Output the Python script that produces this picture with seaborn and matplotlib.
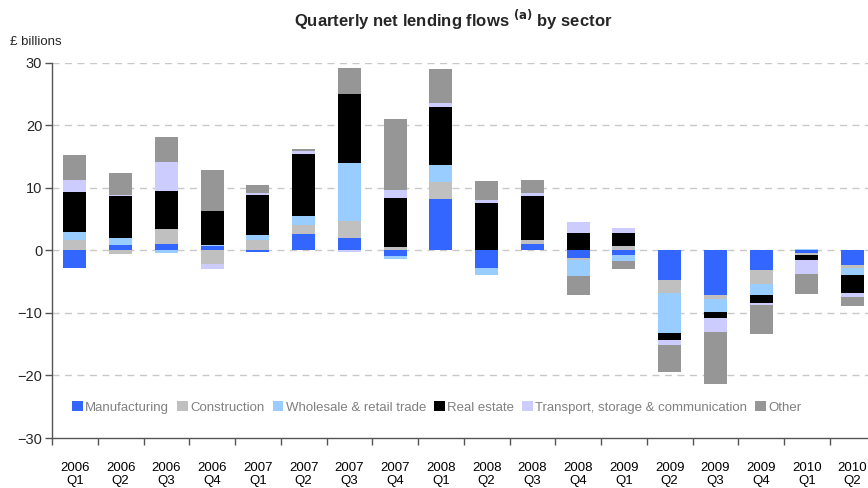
import matplotlib
matplotlib.use("Agg")
import matplotlib.pyplot as plt
from matplotlib.patches import Patch
import numpy as np
import seaborn as sns

# Quarter labels
quarters = ["2006\nQ1", "2006\nQ2", "2006\nQ3", "2006\nQ4",
            "2007\nQ1", "2007\nQ2", "2007\nQ3", "2007\nQ4",
            "2008\nQ1", "2008\nQ2", "2008\nQ3", "2008\nQ4",
            "2009\nQ1", "2009\nQ2", "2009\nQ3", "2009\nQ4",
            "2010\nQ1", "2010\nQ2"]

# Net lending flows by sector, £ billions
manufacturing = [-2.9, 0.8, 1.0, 0.6, -0.3, 2.6, 2.0, -0.9, 8.2, -2.8, 1.0, -1.3,
                 -0.7, -4.8, -7.2, -3.2, -0.5, -2.4]
construction = [1.6, -0.6, 2.4, -2.2, 1.6, 1.4, 2.7, 0.5, 2.7, 0.0, 0.6, -0.3,
                0.6, -2.1, -0.6, -2.2, -0.3, -0.5]
wholesale = [1.3, 1.1, -0.5, 0.3, 0.8, 1.4, 9.3, -0.5, 2.7, -1.1, 0.0, -2.5,
             -1.0, -6.3, -2.1, -1.7, 0.2, -1.1]
real_estate = [6.4, 6.7, 6.1, 5.3, 6.4, 9.9, 10.9, 7.8, 9.3, 7.6, 7.0, 2.7,
               2.1, -1.1, -1.0, -1.4, -0.8, -2.9]
transport = [1.9, 0.3, 4.6, -0.8, 0.3, 0.6, -0.3, 1.4, 0.6, 0.5, 0.6, 1.8,
             0.8, -0.8, -2.1, -0.2, -2.2, -0.6]
other = [4.0, 3.4, 4.0, 6.7, 1.4, 0.3, 4.2, 11.2, 5.4, 3.0, 2.1, -3.0,
         -1.3, -4.3, -8.3, -4.7, -3.2, -1.4]

sectors = ["Manufacturing", "Construction", "Wholesale & retail trade",
           "Real estate", "Transport, storage & communication", "Other"]
series = [manufacturing, construction, wholesale, real_estate, transport, other]
colors = ["#3366FF", "#C0C0C0", "#99CCFF", "#000000", "#CCCCFF", "#969696"]

sns.set_theme(style="white")
plt.rcParams["font.family"] = ["Liberation Sans", "DejaVu Sans"]

fig = plt.figure(figsize=(8.68, 4.88), dpi=100)
ax = fig.add_axes([52 / 868, 50 / 488, 823.5 / 868, 375.5 / 488])

# Stack positives upward and negatives downward, in series order
pos_base = np.zeros(len(quarters))
neg_base = np.zeros(len(quarters))
for name, vals, col in zip(sectors, series, colors):
    v = np.asarray(vals, dtype=float)
    bottom = np.where(v >= 0, pos_base, neg_base)
    sns.barplot(x=quarters, y=v, order=quarters, color=col, saturation=1,
                width=0.5, bottom=bottom, linewidth=0, ax=ax)
    pos_base = pos_base + np.clip(v, 0, None)
    neg_base = neg_base + np.clip(v, None, 0)

ax.set_ylim(-30, 30)
ax.set_xlim(-0.5, len(quarters) - 0.5)
ax.set_yticks(range(-30, 31, 10))
ax.set_ylabel("")
ax.set_xlabel("")

for yv in range(-20, 31, 10):
    ax.axhline(yv, color="#C8C8C8", lw=1.0, ls=(0, (5, 4)), zorder=0)

for side in ["top", "right"]:
    ax.spines[side].set_visible(False)
for side in ["left", "bottom"]:
    ax.spines[side].set_color("#555555")
    ax.spines[side].set_linewidth(1.0)

ax.set_xticks(np.arange(len(quarters)))
ax.set_xticklabels(quarters)
ax.set_xticks(np.arange(len(quarters) + 1) - 0.5, minor=True)
ax.tick_params(axis="x", which="major", length=0, pad=17, labelsize=9.5,
               colors="#000000")
ax.tick_params(axis="x", which="minor", length=5, width=1, color="#555555",
               direction="out", bottom=True)
ax.tick_params(axis="y", which="major", length=5, width=1, color="#555555",
               direction="out", left=True, labelsize=10.5, pad=2)
for lbl in ax.get_xticklabels():
    lbl.set_linespacing(1.2)

handles = [Patch(facecolor=c, edgecolor="none", label=s) for s, c in zip(sectors, colors)]
leg = ax.legend(handles=handles, loc="center left", bbox_to_anchor=(0.018, 0.081),
                ncol=6, frameon=False, fontsize=9.5, handlelength=0.8,
                handleheight=0.8, handletextpad=0.2, columnspacing=0.6,
                borderaxespad=0)
for t in leg.get_texts():
    t.set_color("#808080")

fig.text(453 / 868, 1 - 20 / 488, r"Quarterly net lending flows $^{\mathbf{(a)}}$ by sector",
         ha="center", va="center", fontsize=12, fontweight="bold")
fig.text(10 / 868, 1 - 42 / 488, "£ billions", ha="left", va="center", fontsize=9.5)

fig.savefig("out.png", dpi=100)
